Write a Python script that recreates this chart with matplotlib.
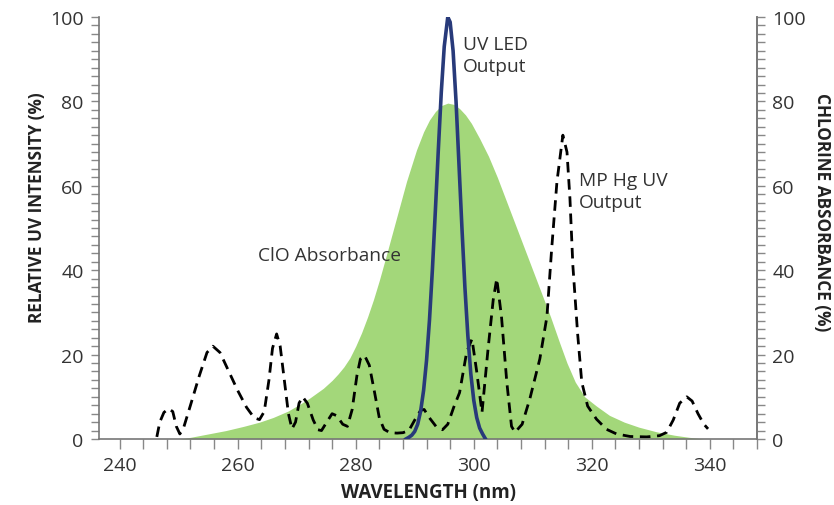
import matplotlib.pyplot as plt
from matplotlib.ticker import MultipleLocator

plt.rcParams['font.family'] = ['Open Sans', 'DejaVu Sans']

# ClO absorbance (green filled area)
clo_nm = [250.2, 252, 255, 258, 261, 263.7, 266, 268.5, 270.5, 272.2, 274.5, 276,
          277, 278, 279, 280, 281, 282, 283, 284, 285.2, 286.9, 288.6, 290.3, 291.5,
          292.5, 293.5, 294.5, 295.6, 296.6, 297.6, 298.6, 299.6, 301, 302.5, 304,
          305.5, 307, 308.5, 310, 311.5, 313, 314.5, 315.8, 317.2, 318.8, 320.8, 323,
          325.5, 328, 331, 334, 336.5, 339]
clo_val = [0, 0.4, 1.2, 2.0, 3.0, 4.0, 5.1, 6.6, 8.2, 9.7, 12.0, 13.9,
           15.4, 17.1, 19.2, 22.0, 25.2, 28.9, 33.0, 37.6, 43.6, 52.3, 61.0, 68.5, 72.8,
           75.6, 77.6, 79.0, 79.6, 79.3, 78.3, 76.8, 74.8, 71.2, 67.0, 62.0,
           56.5, 51.0, 45.5, 40.0, 34.5, 29.0, 23.0, 18.0, 13.5, 10.0, 7.8, 5.6,
           4.0, 2.8, 1.7, 0.9, 0.4, 0]

# UV LED output (solid blue line)
led_nm = [288.5, 289.0, 289.5, 290.0, 290.5, 291.0, 291.5, 292.0, 292.5, 293.0,
          293.5, 294.0, 294.5, 295.0, 295.6, 296.0, 296.5, 297.0, 297.5, 298.0,
          298.5, 299.0, 299.5, 300.0, 300.5, 301.0, 301.5, 302.0]
led_val = [0, 0.4, 0.9, 1.8, 3.5, 6.6, 11.5, 18.6, 28.2, 40.3,
           54.2, 68.6, 82.2, 93.0, 100.0, 98.8, 92.0, 80.0, 65.0, 50.0,
           36.0, 24.5, 15.5, 9.2, 5.1, 2.6, 1.2, 0]

# MP Hg UV output (dashed line)
hg_nm = [246.3, 246.8, 247.5, 248.3, 249.0, 249.6, 250.2, 250.8, 252.0, 253.5,
         254.8, 255.8, 257.0, 258.5, 260.0, 261.5, 262.8, 263.7, 264.5, 265.3,
         265.9, 266.6, 267.2, 267.9, 268.6, 269.2, 269.8, 270.4, 271.0, 271.8,
         272.8, 273.6, 274.2, 275.0, 276.0, 276.8, 277.8, 278.6, 279.4, 280.2,
         280.8, 281.5, 282.3, 283.2, 284.0, 284.8, 285.8, 287.0, 288.0, 289.0,
         290.0, 291.0, 291.6, 292.5, 293.6, 294.7, 295.6, 296.6, 297.6, 298.8,
         299.7, 300.5, 301.4, 302.4, 303.3, 303.9, 304.7, 305.6, 306.4, 307.0,
         308.2, 309.5, 311.2, 312.4, 313.2, 314.1, 315.1, 315.8, 316.3, 316.8,
         317.6, 318.3, 319.3, 320.8, 322.5, 324.2, 326.5, 329.3, 331.5, 332.7,
         333.8, 334.9, 336.1, 337.0, 338.0, 339.0, 339.7]
hg_val = [0.5, 4.0, 6.3, 7.2, 6.5, 3.0, 1.2, 2.5, 8.0, 15.0,
          20.5, 22.0, 20.5, 16.0, 11.5, 7.5, 5.0, 4.6, 6.5, 14.0,
          21.5, 24.9, 22.0, 14.0, 6.0, 2.4, 4.0, 8.5, 10.0, 8.5,
          4.5, 2.2, 2.0, 3.8, 6.0, 5.5, 3.5, 3.0, 7.0, 15.0,
          19.0, 19.8, 17.5, 11.0, 5.0, 2.3, 1.5, 1.4, 1.5, 2.0,
          4.5, 6.8, 7.0, 5.0, 3.0, 2.2, 3.5, 7.5, 11.0, 20.6,
          23.7, 16.0, 6.3, 21.0, 33.0, 38.0, 29.0, 13.5, 3.0, 1.6,
          3.5, 9.5, 19.0, 29.0, 45.0, 61.0, 72.0, 68.0, 57.0, 41.0,
          25.0, 13.5, 7.8, 4.7, 2.3, 1.2, 0.6, 0.5, 0.8, 1.6,
          4.5, 8.5, 10.0, 9.0, 6.0, 3.5, 2.4]

y_ticks = [0, 20, 40, 60, 80, 100]
x_ticks = [240, 260, 280, 300, 320, 340]

fig = plt.figure(figsize=(8.34, 5.06), dpi=100)
ax = fig.add_axes([0.1187, 0.1304, 0.7890, 0.8340])

ax.fill_between(clo_nm, clo_val, color='#a3d77a', linewidth=0, zorder=1)
ax.plot(hg_nm, hg_val, color='black', linewidth=2.0, linestyle=(0, (3.8, 2.4)), zorder=2)
ax.plot(led_nm, led_val, color='#283a7a', linewidth=2.6, zorder=3)

ax.set_xlim(236.5, 348)
ax.set_ylim(0, 100)
ax.set_xticks(x_ticks)
ax.xaxis.set_minor_locator(MultipleLocator(4))
ax.set_yticks(y_ticks)
ax.yaxis.set_minor_locator(MultipleLocator(2))

ax.spines['top'].set_visible(False)
for s in ['left', 'bottom', 'right']:
    ax.spines[s].set_color('#777777')
    ax.spines[s].set_linewidth(1.2)

ax.tick_params(axis='both', which='both', direction='out', color='#888888',
               labelsize=14, labelcolor='#333333', width=1.0)
ax.tick_params(axis='y', which='both', length=6, pad=5)
ax.tick_params(axis='x', which='both', length=7, pad=5)

ax2 = ax.twinx()
ax2.set_ylim(0, 100)
ax2.set_yticks(y_ticks)
ax2.yaxis.set_minor_locator(MultipleLocator(2))
ax2.spines['top'].set_visible(False)
ax2.spines['left'].set_visible(False)
ax2.spines['bottom'].set_visible(False)
ax2.spines['right'].set_color('#777777')
ax2.spines['right'].set_linewidth(1.2)
ax2.tick_params(axis='y', which='both', direction='out', color='#888888',
                labelsize=14, labelcolor='#333333', width=1.0, length=6, pad=5)

ax.set_xlabel('WAVELENGTH (nm)', fontsize=13.5, fontweight='bold', color='#222222', labelpad=6)
ax.set_ylabel('RELATIVE UV INTENSITY (%)', fontsize=12.3, fontweight='bold', color='#222222')
ax.yaxis.set_label_coords(-0.08, 0.55)
ax2.set_ylabel('CHLORINE ABSORBANCE (%)', fontsize=12.3, fontweight='bold', color='#222222',
               rotation=270, va='center')
ax2.yaxis.set_label_coords(1.099, 0.54)

ax.text(298.1, 91.0, 'UV LED\nOutput', fontsize=13.8, color='#333333', ha='left', va='center',
        linespacing=1.3)
ax.text(317.8, 58.8, 'MP Hg UV\nOutput', fontsize=13.8, color='#333333', ha='left', va='center',
        linespacing=1.3)
ax.text(263.4, 43.6, 'ClO Absorbance', fontsize=13.8, color='#333333', ha='left', va='center')

fig.savefig('out.png', dpi=100)
